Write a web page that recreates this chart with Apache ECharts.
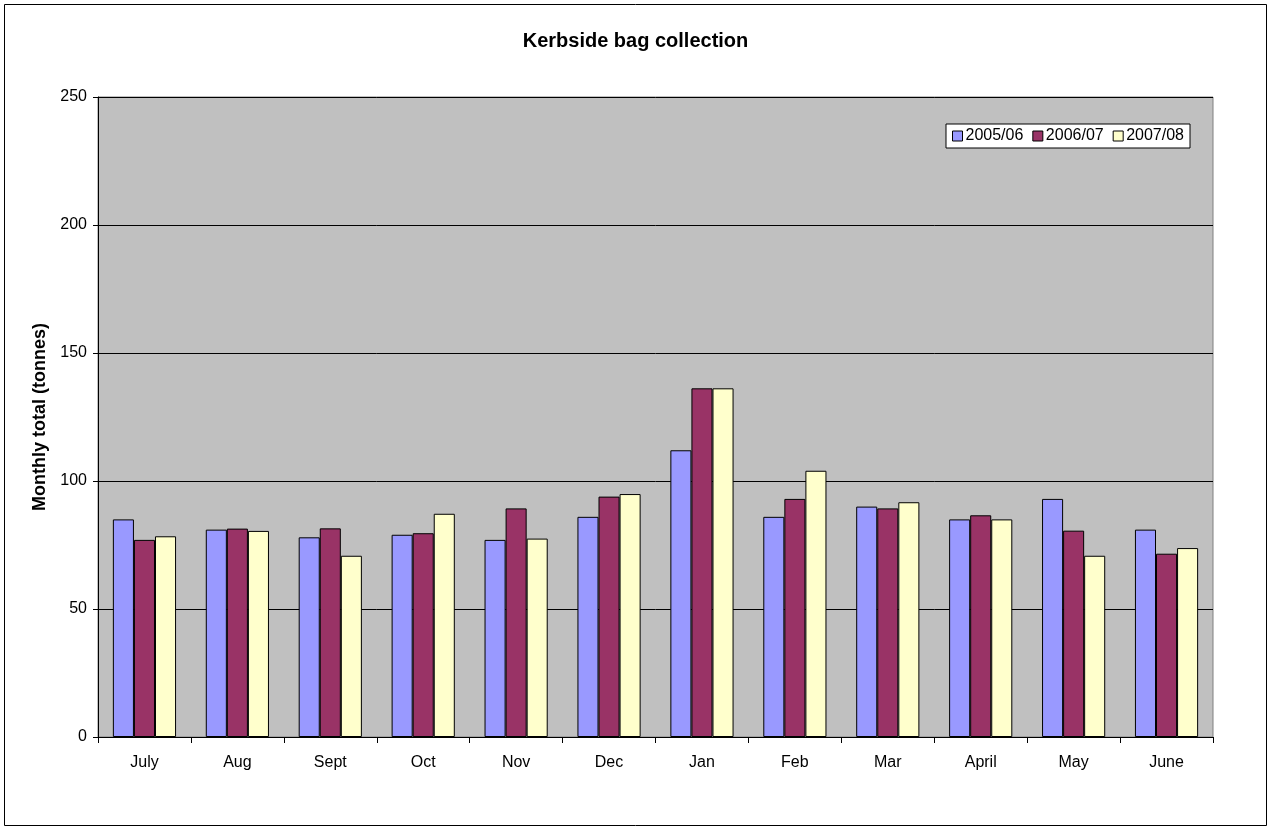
<!DOCTYPE html>
<html>
<head>
<meta charset="utf-8">
<script src="https://cdn.jsdelivr.net/npm/echarts@6/dist/echarts.min.js"></script>
<style>
  html, body { margin: 0; padding: 0; background: #fff; }
  #chart { width: 1271px; height: 827px; }
</style>
</head>
<body>
<div id="chart"></div>
<script>
// 월 구분
var months = ['July', 'Aug', 'Sept', 'Oct', 'Nov', 'Dec', 'Jan', 'Feb', 'Mar', 'April', 'May', 'June'];
// 연도별 월 수거량 (tonnes)
var year0506 = [85, 81, 78, 79, 77, 86, 112, 86, 90, 85, 93, 81];
var year0607 = [77, 81.4, 81.5, 79.6, 89.3, 93.9, 136.2, 93, 89.3, 86.6, 80.6, 71.6];
var year0708 = [78.4, 80.5, 70.8, 87.2, 77.5, 94.9, 136.2, 104, 91.7, 85, 70.8, 73.8];
var seriesNames = ['2005/06', '2006/07', '2007/08'];
var seriesColors = ['#9999ff', '#993366', '#ffffcc'];
var yTicks = [0, 50, 100, 150, 200, 250];

var chart = echarts.init(document.getElementById('chart'));
var font = 'Liberation Sans, Arial, sans-serif';

function barSeries(name, data, color) {
  return {
    name: name,
    type: 'bar',
    data: data,
    barGap: '0%',
    barCategoryGap: '32%',
    itemStyle: { color: color, borderColor: '#000', borderWidth: 1 },
    emphasis: { disabled: true }
  };
}

chart.setOption({
  animation: false,
  textStyle: { fontFamily: font },
  title: {
    text: 'Kerbside bag collection',
    left: 'center',
    top: 26,
    textStyle: { fontSize: 20, fontWeight: 'bold', color: '#000', fontFamily: font }
  },
  legend: {
    data: seriesNames,
    left: 946,
    top: 124,
    orient: 'horizontal',
    icon: 'rect',
    itemWidth: 10,
    itemHeight: 10,
    itemGap: 9,
    padding: [4, 6, 4, 6],
    backgroundColor: '#fff',
    borderColor: '#000',
    borderWidth: 1,
    borderRadius: 0,
    textStyle: { fontSize: 16, color: '#000', fontFamily: font, padding: [0, 0, 0, -2] },
    itemStyle: { borderColor: '#000', borderWidth: 1 }
  },
  grid: {
    left: 98,
    top: 97,
    right: 58,
    bottom: 90,
    show: true,
    backgroundColor: '#c0c0c0',
    borderColor: '#808080',
    borderWidth: 1
  },
  xAxis: {
    type: 'category',
    data: months,
    boundaryGap: true,
    axisLine: { lineStyle: { color: '#000', width: 1 } },
    axisTick: { show: true, alignWithLabel: false, length: 6, lineStyle: { color: '#000' } },
    axisLabel: { fontSize: 16, color: '#000', margin: 18, fontFamily: font }
  },
  yAxis: {
    type: 'value',
    min: yTicks[0],
    max: yTicks[yTicks.length - 1],
    interval: 50,
    name: 'Monthly total (tonnes)',
    nameLocation: 'middle',
    nameGap: 47,
    nameTextStyle: { fontSize: 18, fontWeight: 'bold', color: '#000', fontFamily: font },
    axisLine: { show: true, lineStyle: { color: '#000', width: 1 } },
    axisTick: { show: true, length: 5, lineStyle: { color: '#000' } },
    axisLabel: { fontSize: 16, color: '#000', margin: 11, fontFamily: font },
    splitLine: { show: true, lineStyle: { color: '#000', width: 1 } }
  },
  graphic: [{
    type: 'rect',
    shape: { x: 4.5, y: 4.5, width: 1262, height: 821 },
    style: { fill: 'none', stroke: '#000', lineWidth: 1 },
    silent: true
  }],
  series: [
    barSeries(seriesNames[0], year0506, seriesColors[0]),
    barSeries(seriesNames[1], year0607, seriesColors[1]),
    barSeries(seriesNames[2], year0708, seriesColors[2])
  ]
});
</script>
</body>
</html>
